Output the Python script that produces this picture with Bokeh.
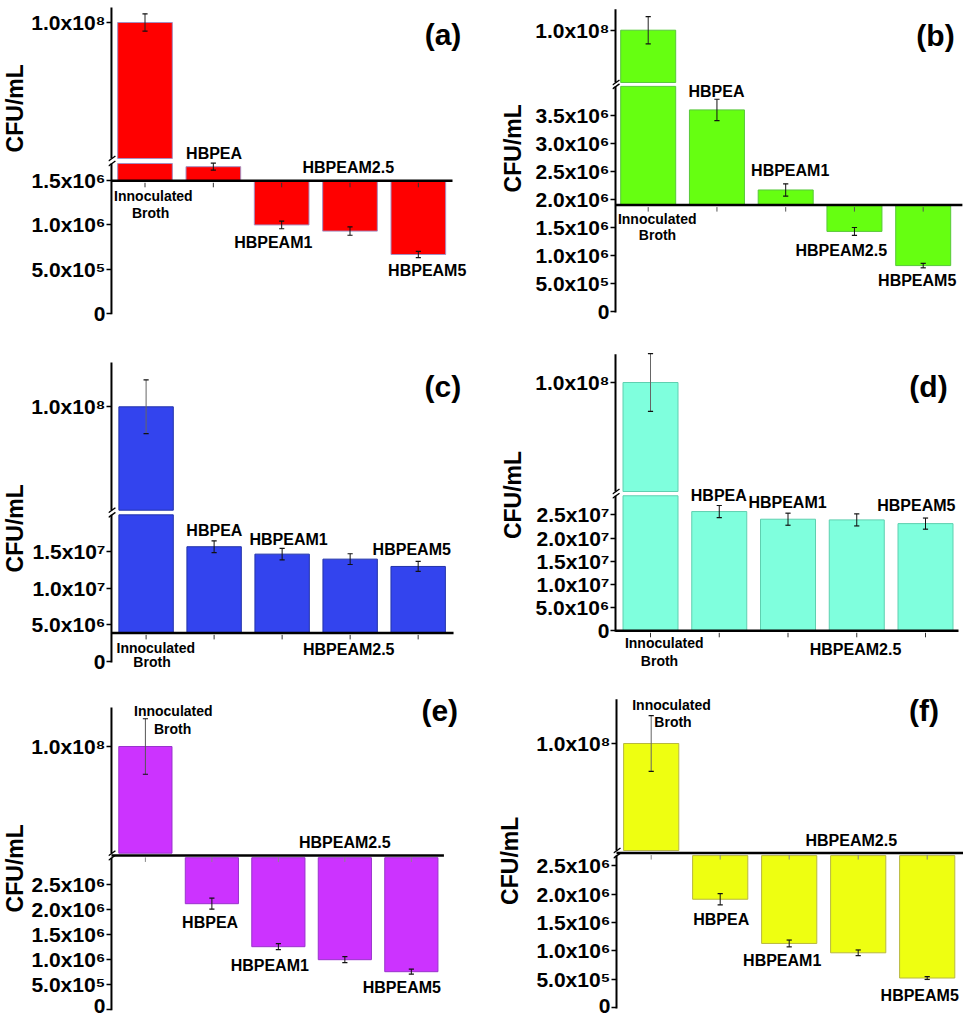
import math
from bokeh.plotting import figure
from bokeh.models import ColumnDataSource, FixedTicker, Label, Range1d
from bokeh.core.properties import value
from bokeh.layouts import column, row
from bokeh.embed import file_html
from bokeh.resources import INLINE

# ---------------- data ----------------
categories = ["Innoculated Broth", "HBPEA", "HBPEAM1", "HBPEAM2.5", "HBPEAM5"]

values_a = [1.0e8, 1.66e6, 1.00e6, 0.93e6, 0.665e6]
errors_a = [3.2e6, 0.04e6, 0.043e6, 0.047e6, 0.036e6]
values_b = [1.0e8, 3.60e6, 2.17e6, 1.43e6, 0.82e6]
errors_b = [1.3e7, 0.19e6, 0.11e6, 0.07e6, 0.04e6]
values_c = [1.0e8, 15.65e6, 14.64e6, 13.96e6, 12.96e6]
errors_c = [1.3e7, 0.79e6, 0.79e6, 0.73e6, 0.68e6]
values_d = [1.0e8, 25.7e6, 24.05e6, 23.9e6, 23.1e6]
errors_d = [1.32e7, 1.3e6, 1.3e6, 1.3e6, 1.2e6]
values_e = [1.0e8, 2.11e6, 1.25e6, 0.99e6, 0.75e6]
errors_e = [1.3e7, 0.11e6, 0.06e6, 0.06e6, 0.05e6]
values_f = [1.0e8, 1.91e6, 1.13e6, 0.965e6, 0.52e6]
errors_f = [1.3e7, 0.10e6, 0.06e6, 0.05e6, 0.025e6]

ticks_a = [0, 5e5, 1.0e6, 1.5e6, 1.0e8]
ticklabels_a = ["0", "5.0x10⁵", "1.0x10⁶", "1.5x10⁶", "1.0x10⁸"]
ticks_b = [0, 5e5, 1.0e6, 1.5e6, 2.0e6, 2.5e6, 3.0e6, 3.5e6, 1.0e8]
ticklabels_b = ["0", "5.0x10⁵", "1.0x10⁶", "1.5x10⁶", "2.0x10⁶", "2.5x10⁶",
                "3.0x10⁶", "3.5x10⁶", "1.0x10⁸"]
ticks_c = [0, 5e6, 1.0e7, 1.5e7, 1.0e8]
ticklabels_c = ["0", "5.0x10⁶", "1.0x10⁷", "1.5x10⁷", "1.0x10⁸"]
ticks_d = [0, 5e6, 1.0e7, 1.5e7, 2.0e7, 2.5e7, 1.0e8]
ticklabels_d = ["0", "5.0x10⁶", "1.0x10⁷", "1.5x10⁷", "2.0x10⁷", "2.5x10⁷", "1.0x10⁸"]
ticks_ef = [0, 5e5, 1.0e6, 1.5e6, 2.0e6, 2.5e6, 1.0e8]
ticklabels_ef = ["0", "5.0x10⁵", "1.0x10⁶", "1.5x10⁶", "2.0x10⁶", "2.5x10⁶", "1.0x10⁸"]

# value where the horizontal axis crosses / bars start
baseline_a, baseline_b, baseline_c = 1.5e6, 1.9e6, 3.9e6
baseline_d, baseline_e, baseline_f = 0.0, 3.03e6, 2.68e6
# axis breaks: top of lower segment, bottom of upper segment
low_top_a, low_top_b, low_top_c = 1.696e6, 4.02e6, 2.0e7
low_top_d, low_top_e, low_top_f = 2.91e7, 3.03e6, 2.68e6
break_upper = 5.0e7
upper_ref = 1.0e8

# ---------------- layout / style ----------------
COL_BOUNDS = [(0, 486), (486, 963)]
LABEL_W = [28, 40]          # width of the strip that carries the y-axis title
ROW_BOUNDS = [(0, 335), (335, 678), (678, 1016)]
X_SHIFT = [0, -10]
Y_SHIFT = [2, -3, -13]
RIGHT_EDGE = [480, 963]
FONT = "Liberation Sans"
YLAB_SIZE = 23
YLAB_HALF = 14

panels = [
    dict(letter="(a)", col=0, row=0, values=values_a, errors=errors_a, ticks=ticks_a,
         tick_labels=ticklabels_a, baseline=baseline_a, low_top=low_top_a,
         color="#FF0000", edge="#a58fc0", at_break=False, ib_err="#222222", xtick="#333333",
         x0=140, dx=69.25, axis=106, zero=310.7, ref=(1.5e6, 178.3), up_bot=156, up_ref=20,
         top=5, end=4.5,
         pos=[(148.5, 193), (145.7, 210.8), (210, 150.7), (270, 240), (346, 165), (426, 268.3)],
         letter_pos=(442, 32), ylab=(20, 105.8)),
    dict(letter="(b)", col=1, row=0, values=values_b, errors=errors_b, ticks=ticks_b,
         tick_labels=ticklabels_b, baseline=baseline_b, low_top=low_top_b,
         color="#66FF11", edge="#58c83a", at_break=False, ib_err="#222222", xtick="#555555",
         x0=657.7, dx=68.75, axis=625, zero=309, ref=(3.5e6, 113), up_bot=80, up_ref=27.7,
         top=6.7, end=4.57,
         pos=[(666.7, 216.7), (667, 232.5), (726, 88.8), (799.7, 167.8), (850.8, 247.8), (926.7, 278.3)],
         letter_pos=(945, 32.5), ylab=(524, 145.8)),
    dict(letter="(c)", col=0, row=1, values=values_c, errors=errors_c, ticks=ticks_c,
         tick_labels=ticklabels_c, baseline=baseline_c, low_top=low_top_c,
         color="#3344EE", edge="#2233aa", at_break=False, ib_err="#666666", xtick="#333333",
         x0=142, dx=68.75, axis=107, zero=664, ref=(1.5e7, 554), up_bot=512.7, up_ref=409.3,
         top=365, end=4.52,
         pos=[(151.8, 650), (148, 664), (211, 533.3), (286, 541.7), (346.8, 651.7), (410.5, 551.7)],
         letter_pos=(442, 389), ylab=(14, 530.8)),
    dict(letter="(d)", col=1, row=1, values=values_d, errors=errors_d, ticks=ticks_d,
         tick_labels=ticklabels_d, baseline=baseline_d, low_top=low_top_d,
         color="#7FFFDD", edge="#5fd0b0", at_break=False, ib_err="#666666", xtick="#333333",
         x0=660, dx=68.75, axis=625, zero=633.3, ref=(2.5e7, 517.3), up_bot=494, up_ref=385,
         top=356.7, end=4.48,
         pos=[(673.7, 645), (669, 663), (728.3, 497.8), (797, 505), (865, 651.7), (925.8, 508.3)],
         letter_pos=(938, 389), ylab=(524.7, 497.5)),
    dict(letter="(e)", col=0, row=2, values=values_e, errors=errors_e, ticks=ticks_ef,
         tick_labels=ticklabels_ef, baseline=baseline_e, low_top=low_top_e,
         color="#CC33FF", edge="#9933cc", at_break=True, ib_err="#555555", xtick="#888888",
         x0=141.3, dx=67.2, axis=107, zero=1021.7, ref=(2.5e6, 896.7), up_bot=865.7, up_ref=759,
         top=720, end=4.49,
         pos=[(169.5, 723), (168.8, 741.2), (206.7, 934.5), (267, 977.8), (342.8, 855), (400.5, 1000)],
         letter_pos=(438.8, 723.3), ylab=(12.8, 880.8)),
    dict(letter="(f)", col=1, row=2, values=values_f, errors=errors_f, ticks=ticks_ef,
         tick_labels=ticklabels_ef, baseline=baseline_f, low_top=low_top_f,
         color="#EEFF11", edge="#b8b840", at_break=True, ib_err="#666666", xtick="#888888",
         x0=660.7, dx=69, axis=626, zero=1020, ref=(2.5e6, 878.3), up_bot=863, up_ref=756,
         top=711.7, end=4.555,
         pos=[(681, 717), (682.5, 734.5), (730.7, 931.7), (791.7, 973), (860.8, 852.7), (929.2, 1008.3)],
         letter_pos=(933.5, 722.5), ylab=(519, 873.3)),
]


def plain_fig(w, h, xr, yr, **kw):
    p = figure(width=w, height=h, x_range=xr, y_range=yr, output_backend="svg",
               toolbar_location=None, min_border_top=0, min_border_bottom=0, **kw)
    p.xgrid.visible = False
    p.ygrid.visible = False
    p.outline_line_color = None
    return p


def build(P):
    fx0, fx1 = COL_BOUNDS[P["col"]]
    fy0, fy1 = ROW_BOUNDS[P["row"]]
    xs, ys = X_SHIFT[P["col"]], Y_SHIFT[P["row"]]
    lw = LABEL_W[P["col"]]
    mx0 = fx0 + lw                      # left edge of the main figure
    dx = P["dx"]
    x0p = P["x0"] + xs
    FL = int(round(P["axis"] + xs - 3))
    FR = RIGHT_EDGE[P["col"]]
    zero_p = P["zero"] + ys
    yr = (zero_p - fy1, zero_p - fy0)

    # broken-axis mapping: value -> vertical position (px above zero)
    k_low = (P["zero"] - P["ref"][1]) / P["ref"][0]
    d_ub = P["zero"] - P["up_bot"]
    d_ref = P["zero"] - P["up_ref"]
    k_up = (d_ref - d_ub) / (upper_ref - break_upper)
    low_top = P["low_top"]

    def f(v):
        if v < break_upper:
            return v * k_low
        return d_ub + (v - break_upper) * k_up

    d_lt = f(low_top)
    d_top = P["zero"] - P["top"]
    d_base = f(P["baseline"])
    d_line = (d_lt + d_ub) / 2 if P["at_break"] else d_base

    # ---- strip with the y-axis title ----
    q = plain_fig(lw, fy1 - fy0, Range1d(fx0, mx0), Range1d(*yr),
                  min_border_left=0, min_border_right=0)
    q.xaxis.visible = False
    q.yaxis.visible = False
    yx, yy = P["ylab"]
    cx = min(max(yx + xs, fx0 + YLAB_HALF), mx0 - YLAB_HALF)
    q.text(x=[cx], y=[P["zero"] - yy], text=["CFU/mL"], angle=math.pi / 2,
           text_align="center", text_baseline="middle", text_font=value(FONT),
           text_font_style="bold", text_font_size=f"{YLAB_SIZE}px", text_color="black")

    # ---- main plot ----
    p = plain_fig(fx1 - mx0, fy1 - fy0,
                  Range1d((FL - x0p) / dx, (FR - x0p) / dx), Range1d(*yr),
                  min_border_left=FL - mx0, min_border_right=fx1 - FR)
    p.xaxis.visible = False
    ax = (FL + 3 - x0p) / dx

    # bars
    bx, bb, bt = [], [], []
    for i, v in enumerate(P["values"]):
        if v >= break_upper:
            if d_lt - d_base > 0.5:
                bx.append(i); bb.append(d_base); bt.append(d_lt)
            bx.append(i); bb.append(d_ub); bt.append(f(v))
        else:
            top = d_lt if P["at_break"] else d_base
            bx.append(i); bb.append(min(top, f(v))); bt.append(max(top, f(v)))
    p.vbar(x="x", bottom="b", top="t", width=0.8,
           source=ColumnDataSource(dict(x=bx, b=bb, t=bt)),
           fill_color=P["color"], line_color=P["edge"], line_width=1)

    # error bars
    cap = 2.6 / dx
    sx, slo, shi, scol = [], [], [], []
    for i, (v, e) in enumerate(zip(P["values"], P["errors"])):
        sx.append(i); slo.append(f(v - e)); shi.append(f(v + e))
        scol.append(P["ib_err"] if i == 0 else "#111111")
    p.segment(x0="x", y0="lo", x1="x", y1="hi", line_width=1, line_color="c",
              source=ColumnDataSource(dict(x=sx, lo=slo, hi=shi, c=scol)))
    cx0 = [x - cap for x in sx] * 2
    cx1 = [x + cap for x in sx] * 2
    cy = slo + shi
    p.segment(x0=cx0, y0=cy, x1=cx1, y1=cy, line_width=1.2, line_color="#111111")

    # category ticks below the horizontal axis
    n = len(categories)
    p.segment(x0=list(range(n)), y0=[d_line - 2] * n, x1=list(range(n)), y1=[d_line - 6.5] * n,
              line_color=P["xtick"], line_width=1)

    # horizontal axis line
    p.segment(x0=[ax], y0=[d_line], x1=[P["end"]], y1=[d_line], line_color="black", line_width=2.5)

    # vertical axis with break
    p.segment(x0=[ax, ax], y0=[-1, d_ub], x1=[ax, ax], y1=[d_lt, d_top],
              line_color="black", line_width=2)
    m0, m1 = 3 / dx, 4 / dx
    p.segment(x0=[ax - m0, ax - m0], y0=[d_lt - 2.5, d_ub - 2.5],
              x1=[ax + m1, ax + m1], y1=[d_lt + 2.5, d_ub + 2.5],
              line_color="black", line_width=1.4)

    # y axis ticks / labels through bokeh axis
    tick_pos = [f(t) for t in P["ticks"]]
    yax = p.yaxis[0]
    yax.ticker = FixedTicker(ticks=tick_pos)
    yax.major_label_overrides = {tp: lab for tp, lab in zip(tick_pos, P["tick_labels"])}
    yax.axis_line_color = None
    yax.major_tick_in = 3
    yax.major_tick_out = 2
    yax.major_tick_line_width = 1.5
    yax.minor_tick_line_color = None
    yax.major_label_standoff = 1
    yax.major_label_text_font = FONT
    yax.major_label_text_font_style = "bold"
    yax.major_label_text_font_size = "21px"
    yax.major_label_text_color = "black"

    # category labels
    words = categories[0].split(" ")
    texts = [words[0], words[1]] + categories[1:]
    lx = [(rx - P["x0"]) / dx for rx, _ in P["pos"]]
    ly = [P["zero"] - ry for _, ry in P["pos"]]
    sizes = ["14px", "14px"] + ["16px"] * (len(texts) - 2)
    p.text(x="x", y="y", text="t", text_font_size="s",
           source=ColumnDataSource(dict(x=lx, y=ly, t=texts, s=sizes)),
           text_align="center", text_baseline="middle", text_font=value(FONT),
           text_font_style="bold", text_color="black")
    px_, py_ = P["letter_pos"]
    p.add_layout(Label(x=(px_ - P["x0"]) / dx, y=P["zero"] - py_, text=P["letter"],
                       text_align="center", text_baseline="middle", text_font=FONT,
                       text_font_style="bold", text_font_size="30px", text_color="black"))
    return row(q, p)


cells = [build(P) for P in panels]
layout = column(row(cells[0], cells[1]), row(cells[2], cells[3]), row(cells[4], cells[5]))
open("out.html", "w").write(file_html(layout, INLINE))
